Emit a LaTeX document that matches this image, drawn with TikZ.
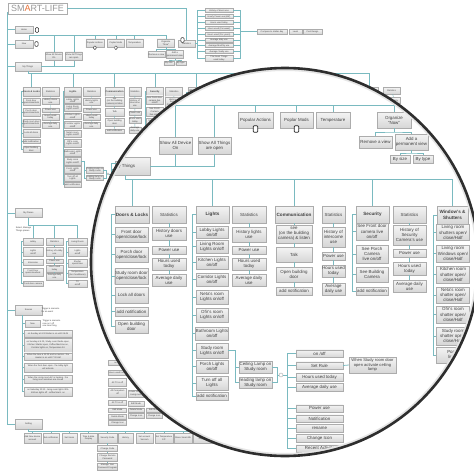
\documentclass[tikz,border=0pt]{standalone}
\usepackage{fontspec}
\setmainfont{Liberation Sans}
\usetikzlibrary{positioning,shadows,calc}
\definecolor{slteal}{RGB}{122,186,192}
\definecolor{slline}{RGB}{172,172,172}
\definecolor{sltop}{RGB}{244,244,244}
\definecolor{slbot}{RGB}{214,214,214}
\definecolor{sltext}{RGB}{64,64,64}
\definecolor{slorange}{RGB}{232,112,52}
\newcommand{\tfont}{\fontsize{4.4}{5.1}\selectfont}
\newcommand{\tbfont}{\fontsize{4.6}{5.3}\selectfont\bfseries}
\newcommand{\sfont}{\fontsize{2.2}{2.6}\selectfont}
\tikzset{
  tbox/.style={draw=slline, line width=0.3pt, top color=sltop, bottom color=slbot, text=sltext, font=\tfont, align=center, inner sep=0.5pt},
  cbox/.style={tbox, font=\tbfont},
  wh/.style 2 args={minimum width=#1pt, minimum height=#2pt},
  sbox/.style={tbox, font=\sfont, inner sep=0.2pt, line width=0.2pt},
  snote/.style={font=\sfont, text=sltext, align=left, inner sep=0pt},
  sconn/.style={draw=slteal, line width=0.35pt},
  conn/.style={sconn},
  phone/.style={draw=black!85, fill=white, line width=0.7pt, rounded corners=0.9pt, minimum width=4.5pt, minimum height=6.5pt, inner sep=0pt},
  sphone/.style={phone, line width=0.5pt, minimum width=3.2pt, minimum height=4.6pt},
  hub/.style={circle, draw=gray!70, fill=white, line width=0.4pt, minimum size=4pt, inner sep=0pt},
}
% the Now / My Things branch, in lens coordinates
\newcommand{\thingstree}{%
  \coordinate (nowbus) at (128,105);
  \node[tbox, wh={35}{16}] (popact) at (255.5,120) {Popular Actions};
  \node[tbox, wh={33}{16}] (popmod) at (296.5,120) {Poplar Mods};
  \node[tbox, wh={34}{16}] (temp) at (333,120) {Temperature};
  \node[tbox, wh={34}{16}] (organize) at (394,120) {Organize\\``Now''};
  \node[tbox, wh={33}{17}] (alldev) at (175.5,145.5) {Show All Device\\On};
  \node[tbox, wh={33}{17}] (allopen) at (214.5,145.5) {Show All Things\\are open};
  \draw[conn] (nowbus) -- (nowbus -| organize) -- (organize.north);
  \foreach \n in {alldev,allopen,popact,popmod,temp}
    \draw[conn] (nowbus -| \n) -- (\n.north);
  \node[phone] (popactph) at (255.5,129) {};
  \node[phone] (popmodph) at (296.5,129) {};
  \node[tbox, wh={33}{12}] (remove) at (375.5,142) {Remove a view};
  \node[tbox, wh={33}{16}] (addperm) at (411.5,142) {Add a\\permanent view};
  \coordinate (orgbus) at (394,132);
  \draw[conn] (organize.south) -- (orgbus);
  \draw[conn] (remove.north) |- (orgbus) -| (addperm.north);
  \node[tbox, wh={20}{8}] (bysize) at (400,159) {By size};
  \node[tbox, wh={20}{8}] (bytype) at (423,159) {By type};
  \coordinate (addbus) at (411.5,153);
  \draw[conn] (addperm.south) -- (addbus);
  \draw[conn] (bysize.north) |- (addbus) -| (bytype.north);
  \node[tbox, wh={50}{18}] (mythings) at (125,166) {My Things};
  \draw[conn] (allopen.south) |- (mythings.east);
  \draw[conn] (alldev.south) -- (alldev.south |- mythings.east);
  % categories
  \coordinate (thingbus) at (125,179);
  \node[cbox, wh={34}{17}] (doors) at (132,214.5) {Doors \& Locks};
  \node[tbox, wh={34}{17}] (dstat) at (169,214.5) {Statistics};
  \node[cbox, wh={33}{17}] (lights) at (212.5,214.5) {Lights};
  \node[tbox, wh={34}{17}] (lstat) at (249,214.5) {Statistics};
  \node[cbox, wh={38}{17}] (comm) at (294,214.5) {Communication};
  \node[tbox, wh={23}{17}] (cstat) at (333.5,214.5) {Statistics};
  \node[cbox, wh={33}{17}] (secur) at (372.5,214.5) {Security};
  \node[tbox, wh={33}{17}] (sstat) at (409.5,214.5) {Statistics};
  \node[cbox, wh={31}{18}] (winsh) at (452.5,215) {Window's \&\\Shutters};
  \draw[conn] (mythings.south) |- (winsh.north |- thingbus);
  \foreach \n in {doors,lights,comm,secur,winsh}
    \draw[conn] (thingbus -| \n) -- (\n.north);
  % doors & locks
  \node[tbox, wh={33}{15}] (dfront) at (131.5,234.5) {Front door\\open/close/lock};
  \node[tbox, wh={33}{15}] (dporch) at (131.5,254.5) {Porch door\\open/close/lock};
  \node[tbox, wh={33}{16}] (dstudy) at (131.5,276) {Study room door\\open/close/lock};
  \node[tbox, wh={33}{16}] (dlock) at (131.5,295) {Lock all doors};
  \node[tbox, wh={33}{9}] (dnotif) at (131.5,311.5) {add notification};
  \node[tbox, wh={33}{13}] (dopen) at (131.5,326.5) {Open building\\door};
  \foreach \c in {dfront,dporch,dstudy,dlock,dnotif,dopen}
    \draw[conn] (doors.west) -- ++(-3,0) |- (\c.west);
  \node[tbox, wh={34}{13}] (dshist) at (169,233.5) {History doors\\use};
  \node[tbox, wh={34}{7.5}] (dspow) at (169,250) {Power use};
  \node[tbox, wh={34}{12}] (dshour) at (169,264) {Hours used\\today};
  \node[tbox, wh={34}{12}] (dsavg) at (169,280) {Average daily\\use};
  \draw[conn] (dstat) -- (dshist) (dshist) -- (dspow) (dspow) -- (dshour) (dshour) -- (dsavg);
  % lights
  \node[tbox, wh={32}{12}] (llobby) at (212,232) {Lobby Lights\\on/off};
  \node[tbox, wh={32}{13}] (lliving) at (212,246.5) {Living Room\\Lights on/off};
  \node[tbox, wh={32}{13}] (lkitchen) at (212,262.5) {Kitchen Lights\\on/off};
  \node[tbox, wh={32}{13}] (lcorr) at (212,279.5) {Corridor Lights\\on/off};
  \node[tbox, wh={32}{14}] (lneta) at (212,297) {Neta's room\\Lights on/off};
  \node[tbox, wh={32}{14}] (lofir) at (212,315) {Ofir's room\\Lights on/off};
  \node[tbox, wh={32}{13}] (lbath) at (212,333.5) {Bathroom Lights\\on/off};
  \node[tbox, wh={32}{15}] (lstudy) at (212,350.5) {Study room\\Lights on/off};
  \node[tbox, wh={32}{13}] (lporch) at (212,366.5) {Porch Lights\\on/off};
  \node[tbox, wh={32}{14}] (lall) at (212,383) {Turn off all\\Lights};
  \node[tbox, wh={32}{8}] (lnotif) at (212,396) {add notification};
  \foreach \c in {llobby,lliving,lkitchen,lcorr,lneta,lofir,lbath,lstudy,lporch,lall,lnotif}
    \draw[conn] (lights.west) -- ++(-3,0) |- (\c.west);
  \node[tbox, wh={34}{15}] (lshist) at (249,234.5) {History lights\\use};
  \node[tbox, wh={34}{7.5}] (lspow) at (249,250) {Power use};
  \node[tbox, wh={34}{12}] (lshour) at (249,264) {Hours used\\today};
  \node[tbox, wh={34}{12}] (lsavg) at (249,280) {Average daily\\use};
  \draw[conn] (lstat) -- (lshist) (lshist) -- (lspow) (lspow) -- (lshour) (lshour) -- (lsavg);
  % study room lamps
  \node[tbox, wh={33}{12}] (ceiling) at (255.5,367) {Ceiling Lamp on\\Study room};
  \node[tbox, wh={33}{11}] (reading) at (255.5,382.5) {reading lamp on\\Study room};
  \draw[conn] (lstudy.east) -- ++(7,0) |- (ceiling.west);
  \draw[conn] (lstudy.east) -- ++(7,0) |- (reading.west);
  \node[hub] (lamphub) at (281,375) {};
  \draw[conn] (ceiling.east) -- ++(5,0) |- (lamphub.west);
  \draw[conn] (reading.east) -- ++(5,0) |- (lamphub.west);
  \node[tbox, wh={47}{7.5}] (oonoff) at (319.5,353.5) {on /off};
  \node[tbox, wh={47}{7.5}] (orule) at (319.5,365.5) {Set Rule};
  \node[tbox, wh={47}{7.5}] (ohours) at (319.5,377) {Hours used today};
  \node[tbox, wh={47}{7.5}] (oavg) at (319.5,387) {Average daily use};
  \node[tbox, wh={47}{7.5}] (opower) at (319.5,408.5) {Power use};
  \node[tbox, wh={47}{7.5}] (onotif) at (319.5,418.5) {Notification};
  \node[tbox, wh={47}{7.5}] (orename) at (319.5,428) {rename};
  \node[tbox, wh={47}{7.5}] (oicon) at (319.5,438) {Change Icon};
  \node[tbox, wh={47}{7.5}] (orecent) at (319.5,448.5) {Recent Activity};
  \foreach \o in {oonoff,orule,ohours,oavg,opower,onotif,orename,oicon,orecent}
    \draw[conn] (lamphub.east) -- ++(4,0) |- (\o.west);
  \node[tbox, wh={47}{16}, font=\fontsize{4.1}{4.9}\selectfont] (rulewhen) at (372.5,365) {When Study room door\\open activate ceiling\\lamp};
  \draw[conn] (orule.east) -- (rulewhen.west);
  % communication
  \node[tbox, wh={36}{18}] (csee) at (294,234) {see\\(on the building\\camera) \& listen};
  \node[tbox, wh={36}{15}] (ctalk) at (294,254.5) {Talk};
  \node[tbox, wh={36}{15}] (copen) at (294,274.5) {Open building\\door};
  \node[tbox, wh={36}{8}] (cnotif) at (294,291) {add notification};
  \draw[conn] (comm) -- (csee) (csee) -- (ctalk) (ctalk) -- (copen) (copen) -- (cnotif);
  \node[tbox, wh={23}{20}] (cshist) at (333.5,237) {History of\\intercome\\use};
  \node[tbox, wh={23}{8}] (cspow) at (333.5,256) {Power use};
  \node[tbox, wh={23}{12}] (cshour) at (333.5,271) {Hours used\\today};
  \node[tbox, wh={23}{12}] (csavg) at (333.5,289) {Average\\daily use};
  \draw[conn] (cstat) -- (cshist) (cshist) -- (cspow) (cspow) -- (cshour) (cshour) -- (csavg);
  % security
  \node[tbox, wh={32}{17}] (sfront) at (372,231.5) {See Front door\\camera live\\on/off};
  \node[tbox, wh={32}{18}] (sporch) at (372,254) {See Porch\\Camera\\live on/off};
  \node[tbox, wh={32}{15}] (sbuild) at (372,274.5) {See Building\\Camera};
  \node[tbox, wh={32}{8}] (snotif) at (372,291) {add notification};
  \foreach \c in {sfront,sporch,sbuild,snotif}
    \draw[conn] (secur.west) -- ++(-3,0) |- (\c.west);
  \node[tbox, wh={33}{20}] (sshist) at (409.5,235) {History of\\Security\\Camera's use};
  \node[tbox, wh={33}{8}] (sspow) at (409.5,253.5) {Power use};
  \node[tbox, wh={33}{13}] (sshour) at (409.5,268.5) {Hours used\\today};
  \node[tbox, wh={33}{12}] (ssavg) at (409.5,286) {Average daily\\use};
  \draw[conn] (sstat) -- (sshist) (sshist) -- (sspow) (sspow) -- (sshour) (sshour) -- (ssavg);
  % windows & shutters
  \node[tbox, wh={33}{16}] (wliv) at (453,232.5) {Living room\\shutters open/\\close/Half};
  \node[tbox, wh={33}{17}] (wlivw) at (453,253.5) {Living room\\Windows open/\\close/Half};
  \node[tbox, wh={33}{17}] (wkit) at (453,274.5) {Kitchen room\\shatter open/\\close/Half};
  \node[tbox, wh={33}{16}] (wneta) at (453,295) {Neta's room\\shatter open/\\close/Half};
  \node[tbox, wh={33}{17}] (wofir) at (453,314.5) {Ofir's room\\shatter open/\\close/Half};
  \node[tbox, wh={33}{18}] (wstudy) at (453,336) {Study room\\shatter open/\\close/Half};
  \node[tbox, wh={33}{16}] (wporch) at (453,355) {Porch\\lights};
  \foreach \c in {wliv,wlivw,wkit,wneta,wofir,wstudy,wporch}
    \draw[conn] (winsh.west) -- ++(-3,0) |- (\c.west);
}

\begin{document}
\begin{tikzpicture}[x=1pt, y=-1pt]
  \useasboundingbox (0,0) rectangle (474,474);
  \fill[white] (0,0) rectangle (474,474);

  % background map
  \node[draw=slline, line width=0.4pt, minimum width=59pt, minimum height=11pt, inner sep=0pt, font=\fontsize{9}{9}\selectfont, text=gray!80] (title) at (37.5,8.5) {SM\textcolor{slorange}{A}RT-LIFE};
  \coordinate (spine) at (7,12);
  \node[sbox, wh={18}{7}] (home) at (24,29.5) {Home};
  \node[sbox, wh={18}{8}] (now) at (24,44) {Now};
  \node[sbox, wh={27}{9}] (places) at (28.5,213) {My Places};
  \node[sbox, wh={27}{10}] (scenes) at (28.5,310) {Scenes};
  \node[sbox, wh={27}{10}] (setting) at (28.5,424) {Setting};
  \foreach \n in {home,now,places,scenes,setting}
    \draw[sconn] (spine) |- (\n.west);
  \node[sphone] (homeph) at (37,30) {};
  \node[sphone] (nowph) at (36.5,44) {};

  \node[sbox, wh={17}{7}] (bstat) at (186.5,43.5) {Statistics};
  \draw[sconn] (title.east) -| (bstat.north);
  \node[sphone] (bstatph) at (182.5,40) {};
  \node[sbox, wh={28}{4}] (bl1) at (219,10.5) {History of doors use};
  \node[sbox, wh={28}{4}] (bl2) at (219,16.5) {Hourly Power use (kW)};
  \node[sbox, wh={28}{4}] (bl3) at (219,22.5) {Hours used today};
  \node[sbox, wh={28}{4}] (bl4) at (219,28.5) {Hours used (Per week)};
  \node[sbox, wh={28}{4}] (bl5) at (219,34.5) {Hours used (Per years)};
  \node[sbox, wh={28}{4}] (bl6) at (219,40) {Average daily use};
  \node[sbox, wh={28}{4}] (bl7) at (219,45.5) {Average Monthly use};
  \node[sbox, wh={28}{4}] (bl8) at (219,51.5) {Average Yearly use};
  \node[sbox, wh={28}{6}] (bl9) at (219,58.5) {The hours Things\\used today};
  \node[sbox, wh={30}{5}] (compare) at (272,31.5) {Compare to similar day};
  \node[sbox, wh={13}{5}] (blevel) at (295.5,31.5) {Level};
  \node[sbox, wh={19}{5}] (bpost) at (312.5,31.5) {Post Design};
  \foreach \n in {bl1,bl2,bl3,bl4,bl5,bl6,bl7,bl8,bl9} {
    \draw[sconn] (bstat.east) -- ++(2,0) |- (\n.west);
    \draw[sconn] (\n.east) -- ++(7,0) |- (compare.west);
  }

  % my places
  \node[snote] (placesnote) at (23.5,229.5) {Select, Manage\\Things places};
  \coordinate (pbus) at (28.5,225);
  \node[sbox, wh={20}{7}] (plobby) at (33,241.5) {Lobby};
  \node[sbox, wh={17}{7}] (pstat) at (54.5,241.5) {Statistics};
  \node[sbox, wh={19}{7}] (pliving) at (77.5,241.5) {Living Room};
  \draw[sconn] (places.south) -- (pbus) -- (pbus -| pliving) -- (pliving.north);
  \draw[sconn] (pbus -| plobby) -- (plobby.north);
  \draw[sconn] (pbus -| pstat) -- (pstat.north);
  \node[sbox, wh={20}{9}] (pl1) at (33,252) {Lights\\on/off};
  \node[sbox, wh={20}{6}] (pl2) at (33,262.5) {Intercome};
  \node[sbox, wh={20}{8}] (pl3) at (33,272) {Front Door\\open/close/lock};
  \node[sbox, wh={20}{5}] (pl4) at (33,283.5) {Front door camera};
  \foreach \c in {pl1,pl2,pl3,pl4}
    \draw[sconn] (plobby.west) -- ++(-1.5,0) |- (\c.west);
  \node[sbox, wh={17}{9}] (ps1) at (54.5,252) {History of Lobby\\use};
  \node[sbox, wh={17}{4.5}] (ps2) at (54.5,261) {Power use};
  \node[sbox, wh={17}{7}] (ps3) at (54.5,268.5) {Hours used\\today};
  \node[sbox, wh={17}{7}] (ps4) at (54.5,276.5) {Average daily\\use};
  \draw[sconn] (pstat) -- (ps1) (ps1) -- (ps2) (ps2) -- (ps3) (ps3) -- (ps4);
  \node[sbox, wh={19}{9}] (pv1) at (77.5,252) {Lights\\on/off};
  \node[sbox, wh={19}{8}] (pv2) at (77.5,263) {Shutter\\open/close};
  \node[sbox, wh={19}{7}] (pv3) at (77.5,273.5) {Temperature\\(Air Conditioner)};
  \node[sbox, wh={19}{7}] (pv4) at (77.5,283.5) {TV\\on/off};
  \foreach \c in {pv1,pv2,pv3,pv4}
    \draw[sconn] (pliving.west) -- ++(-1.5,0) |- (\c.west);

  % scenes
  \node[snote] (scenesnote) at (50.5,310.5) {Trigger a scenario\\for an event};
  \node[sbox, wh={15}{7}] (scnow) at (32.5,323.5) {Now};
  \node[snote] (scnownote) at (51.5,323.5) {Trigger a scenario\\now on / off\\one time thing};
  \node[sbox, wh={48}{7}] (sc1) at (48,333.5) {on Sunday at 6:00 Boiler is on until 06:45};
  \node[sbox, wh={48}{14}] (sc2) at (48,345) {on Sunday at 6:00, Study room Radio open,\\Kitchen Shatter open, Coffee Machine on,\\Corridor lights on, Temperature 24};
  \node[sbox, wh={48}{7.5}] (sc3) at (48,356.5) {When the time is 23:00 and no motion - the\\Heater is on until 7:00 AM};
  \node[sbox, wh={48}{9}] (sc4) at (48,367.5) {When the front door open - the lobby light\\will activate};
  \node[sbox, wh={48}{8}] (sc5) at (48,379) {When the Living room AC is heating - the\\living room windows are closed};
  \node[sbox, wh={48}{9}] (sc6) at (48,391.5) {on Saturday 20:10 - living room lights 30\%\\Kitchen lights off - coffee Mach. on};
  \foreach \c in {scnow,sc1,sc2,sc3,sc4,sc5,sc6}
    \draw[sconn] ([xshift=-6.5pt]scenes.south) |- (\c.west);

  % setting
  \coordinate (setbus) at (28.5,431);
  \node[sbox, wh={17}{10}] (set1) at (32.5,438) {Add New device\\account};
  \node[sbox, wh={16}{10}] (set2) at (51,438) {Set notification};
  \node[sbox, wh={15}{10}] (set3) at (69.5,438) {Set Users};
  \node[sbox, wh={17}{10}] (set4) at (88.5,438) {Time \& date\\Display};
  \node[sbox, wh={19}{10}] (set5) at (107.5,438) {Security Code};
  \node[sbox, wh={15}{10}] (set6) at (125.5,438) {History};
  \node[sbox, wh={17}{10}] (set7) at (144.5,438) {Set account\\Ver.com};
  \node[sbox, wh={18}{10}] (set8) at (164,438) {Set Temperature\\C/F};
  \node[sbox, wh={18}{10}] (set9) at (183,438) {Share Smart-life};
  \node[sbox, wh={19}{10}] (set10) at (202.5,438) {Contact us/\\Support};
  \draw[sconn] (setting.south) -- (setbus) -- (setbus -| set10);
  \foreach \n in {set1,set2,set3,set4,set5,set6,set7,set8,set9,set10}
    \draw[sconn] (setbus -| \n) -- (\n.north);
  \node[sbox, wh={20}{6}] (code1) at (107.5,448.5) {Change Code};
  \node[sbox, wh={20}{8}] (code2) at (107.5,457.5) {Change Remote\\Password};
  \node[sbox, wh={20}{7}] (code3) at (107.5,466.5) {Manage Your\\Password Program};
  \draw[sconn] (set5) -- (code1) (code1) -- (code2) (code2) -- (code3);

  % scene actions
  \node[sbox, wh={18}{5}] (ma1) at (117.5,362.5) {on /off};
  \node[sbox, wh={18}{5}] (ma2) at (117.5,372.5) {Hours used today};
  \node[sbox, wh={18}{8}] (ma3) at (117.5,382.5) {All TV is off};
  \node[sbox, wh={18}{9}] (ma4) at (117.5,392.5) {All Computers\\off};
  \node[sbox, wh={18}{5}] (ma5) at (117.5,402.5) {All TV is off};
  \node[sbox, wh={18}{4.5}] (ma6) at (117.5,410) {Edit Mode};
  \node[sbox, wh={18}{4.5}] (ma7) at (117.5,416.5) {Delete Mode};
  \node[sbox, wh={18}{4.5}] (ma8) at (117.5,422.5) {Change Icon};
  \node[sbox, wh={16}{7}] (mb1) at (136,393.5) {Lower shutter\\Living room};
  \node[sbox, wh={16}{4.5}] (mb2) at (136,403.5) {Edit Mode};
  \node[sbox, wh={16}{4.5}] (mb3) at (136,410) {Delete Mode};
  \node[sbox, wh={16}{4.5}] (mb4) at (136,415.5) {Change Icon};
  \node[sbox, wh={16}{4.5}] (mc1) at (154,410) {Edit Mode};
  \node[sbox, wh={16}{4.5}] (mc2) at (154,415.5) {Change Icon};

  % the same branch, small
  \begin{scope}[shift={(-36.2,-18.5)}, scale=0.513, transform shape, conn/.style={sconn}, phone/.append style={line width=0.45pt}]
    \thingstree
  \end{scope}
  \draw[sconn] (spine) |- (mythings.west);
  \draw[sconn] (nowbus |- now.north) -- (nowbus);
  \node[sbox, wh={19}{7}] (bheat) at (369,90.5) {Heating};
  \node[sbox, wh={17}{7}] (bhstat) at (391.5,90.5) {Statistics};
  \node[sbox, wh={11}{6}] (bhhist) at (394.5,100.5) {History};
  \draw[sconn] (winsh.north |- thingbus) -- (bheat.north |- thingbus) -- (bheat.north);
  \draw[sconn] (bhstat) -- (bhhist);

  % the lens
  \coordinate (lenscentre) at (285,262);
  \begin{scope}
    \clip (lenscentre) circle[radius=194pt];
    \fill[white] (0,0) rectangle (474,474);
    \begin{scope}[conn/.style={draw=slteal, line width=0.75pt}, tbox/.append style={drop shadow={shadow xshift=0.8pt, shadow yshift=-0.8pt, opacity=0.25}}]
      \thingstree
    \end{scope}
    \draw[line width=6pt, black!10] (lenscentre) circle[radius=194pt];
  \end{scope}
  \draw[line width=2.6pt, black!82] (lenscentre) circle[radius=194pt];
\end{tikzpicture}
\end{document}
